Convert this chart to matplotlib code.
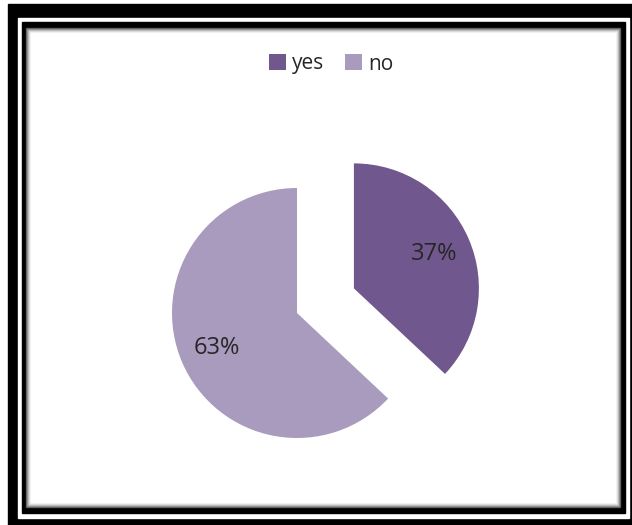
import matplotlib.pyplot as plt
from matplotlib.patches import Rectangle, Patch

labels = ["yes", "no"]
shares = [37, 63]
colours = ["#70588f", "#a99bbd"]

W, H = 632, 525
fig = plt.figure(figsize=(W / 100, H / 100), dpi=100)
ax = fig.add_axes([0, 0, 1, 1])

# double frame: thick black outer band, white gap, thin black inner band
ax.add_patch(Rectangle((8, 0), W - 8, H - 4, color="black", zorder=0))
ax.add_patch(Rectangle((18, 7), 611, 500, color="white", zorder=0))
ax.add_patch(Rectangle((22, 12), 603, 491, color="black", zorder=0))
# soft grey shadow on the inside of the inner band
greys = ["#5a5a5a", "#8a8a8a", "#b5b5b5", "#d8d8d8", "#efefef", "#ffffff"]
for i, g in enumerate(greys):
    ax.add_patch(Rectangle((26 + i, 18 + i), 594 - 2 * i, 479 - 2 * i,
                           color=g, zorder=0))

# explode is in data units here (radius 125 px), so 62 ~ half a radius
wedges, texts, autotexts = ax.pie(
    shares, colors=colours, startangle=90, counterclock=False,
    explode=[62, 0], center=(297, 212), radius=125,
    autopct="%d%%", pctdistance=0.7,
    textprops=dict(fontsize=17, color="#262626", family="Open Sans"),
    wedgeprops=dict(linewidth=0),
)

ax.set_xlim(0, W)
ax.set_ylim(0, H)
ax.set_aspect("auto")
ax.axis("off")

handles = [Patch(facecolor=c, label=l) for c, l in zip(colours, labels)]
ax.legend(handles=handles, loc="center", bbox_to_anchor=(331, 461),
          bbox_transform=ax.transData, ncol=2, frameon=False,
          handlelength=0.8, handleheight=0.8, handletextpad=0.3,
          columnspacing=1.0, prop=dict(family="Open Sans", size=15),
          labelcolor="#262626")

fig.savefig("out.png", dpi=100)
